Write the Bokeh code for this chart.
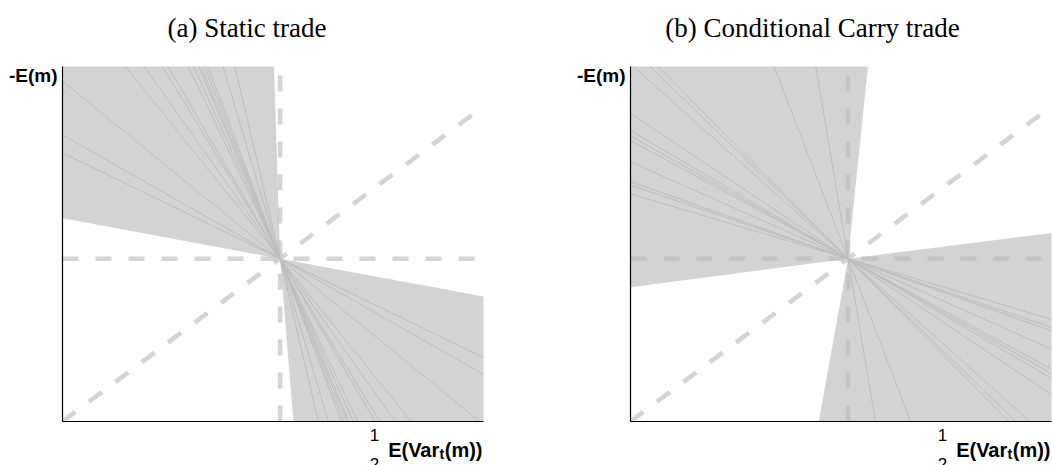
import math
from bokeh.plotting import figure
from bokeh.models import Range1d, Label, FixedTicker, LinearAxis
from bokeh.layouts import row
from bokeh.embed import file_html
from bokeh.resources import INLINE

# ---------------- data ----------------
X_MAX = 1.935          # x-axis extent (1/2 E(Var_t(m)))
Y_MAX = 2.18           # y-axis extent (-E(m))
CENTER = (1.0, 1.0)    # common point of all lines

titles = ["(a) Static trade", "(b) Conditional Carry trade"]
y_label = "-E(m)"
x_label_main = "E(Var"
x_label_sub = "t"
x_label_tail = "(m))"
x_label_num = "1"
x_label_den = "2"

# slopes of the individual lines through the centre
static_slopes = [-0.65, -0.76, -1.09, -1.66, -1.89, -2.18, -2.29, -2.80,
                 -2.97, -3.16, -3.26, -3.41, -3.55, -4.50, -5.68]
carry_slopes = [-0.398, -0.451, -0.473, -0.594, -0.726, -0.754, -0.787,
                -0.893, -1.196, -1.297, -1.351, -3.475, -7.96]

# shaded region edges: (steep edge slope, shallow edge slope)
static_upper_edges = (-42.6, -0.248)
static_lower_edges = (-16.3, -0.248)
carry_upper_edges = (12.9, 0.176)
carry_lower_edges = (7.43, 0.168)

# ---------------- layout constants ----------------
CANVAS_H = 465
BW, BH = 421, 355          # plotting box in pixels
BOX_TOP = 66
BOX_BOTTOM = BOX_TOP + BH  # 421
PX_X = BW / X_MAX
PX_Y = BH / Y_MAX

FILL = "#d3d3d3"
LINE = "#bdbdbd"
DASH = "#bbbbbb"


def hit(cx, cy, dx, dy):
    ts = []
    if dx > 0:
        ts.append((X_MAX - cx) / dx)
    elif dx < 0:
        ts.append(-cx / dx)
    if dy > 0:
        ts.append((Y_MAX - cy) / dy)
    elif dy < 0:
        ts.append(-cy / dy)
    t = min(ts)
    return cx + t * dx, cy + t * dy


def wedge(d1, d2):
    cx, cy = CENTER
    a1 = math.atan2(d1[1], d1[0])
    span = (math.atan2(d2[1], d2[0]) - a1) % (2 * math.pi)
    pts = [hit(cx, cy, *d1)]
    corners = [(0, 0), (X_MAX, 0), (X_MAX, Y_MAX), (0, Y_MAX)]
    inside = []
    for (x, y) in corners:
        rel = (math.atan2(y - cy, x - cx) - a1) % (2 * math.pi)
        if rel < span:
            inside.append((rel, (x, y)))
    inside.sort()
    pts += [c for _, c in inside]
    pts.append(hit(cx, cy, *d2))
    xs = [cx] + [q[0] for q in pts]
    ys = [cy] + [q[1] for q in pts]
    return xs, ys


def make_panel(title, slopes, upper, lower, fig_left_px, fig_width, box_left_px, title_center_px):
    left_off = box_left_px - fig_left_px
    x_rng = Range1d(-left_off / PX_X, (fig_width - left_off) / PX_X)
    y_rng = Range1d(-(CANVAS_H - BOX_BOTTOM) / PX_Y, BOX_BOTTOM / PX_Y)
    p = figure(x_range=x_rng, y_range=y_rng,
               frame_width=fig_width, frame_height=CANVAS_H,
               min_border=0, x_axis_type=None, y_axis_type=None,
               output_backend="svg", toolbar_location=None,
               background_fill_color="white", border_fill_color="white")
    p.outline_line_color = None
    p.xgrid.visible = False
    p.ygrid.visible = False

    xa = LinearAxis(fixed_location=0, bounds=(0, X_MAX))
    ya = LinearAxis(fixed_location=0, bounds=(0, Y_MAX))
    for ax in (xa, ya):
        ax.ticker = FixedTicker(ticks=[])
        ax.axis_line_color = "black"
        ax.axis_line_width = 1.2
        ax.major_tick_line_color = None
        ax.minor_tick_line_color = None
        ax.major_label_text_font_size = "0px"

    cx, cy = CENTER
    # shaded regions
    s_up, s_left = upper
    xs, ys = wedge((1.0 / s_up, 1.0), (-1.0, -s_left))
    p.patch(xs, ys, fill_color=FILL, line_color=None)
    s_down, s_right = lower
    xs, ys = wedge((-1.0 / s_down, -1.0), (1.0, s_right))
    p.patch(xs, ys, fill_color=FILL, line_color=None)

    # individual lines
    x0s, y0s, x1s, y1s = [], [], [], []
    for s in slopes:
        a = hit(cx, cy, -1.0, -s)
        b = hit(cx, cy, 1.0, s)
        x0s.append(a[0]); y0s.append(a[1]); x1s.append(b[0]); y1s.append(b[1])
    p.segment(x0s, y0s, x1s, y1s, line_color=LINE, line_width=1)

    # dashed reference lines
    kw = dict(line_color=DASH, line_alpha=0.64, line_width=4.5, line_dash="16 17", line_cap="butt")
    p.line([0, X_MAX], [cy, cy], **kw)
    p.line([cx, cx], [0, Y_MAX], **kw)
    p.line([0, X_MAX], [0, X_MAX], **kw)

    p.add_layout(xa, "below")
    p.add_layout(ya, "left")

    def dx(px):
        return (px - box_left_px) / PX_X

    def dy(py):
        return (BOX_BOTTOM - py) / PX_Y

    # title
    p.add_layout(Label(x=dx(title_center_px), y=dy(27), text=title,
                       text_font="Liberation Serif", text_font_size="27px",
                       text_align="center", text_baseline="alphabetic", text_color="black"))
    # y label
    p.add_layout(Label(x=dx(box_left_px - 5), y=dy(75), text=y_label,
                       text_font="Liberation Sans", text_font_size="19px", text_font_style="bold",
                       text_align="right", text_baseline="alphabetic", text_color="black"))
    # x label pieces
    right = box_left_px + BW - 1
    base = 449
    fs = 20
    w_tail = 1.888 * fs
    w_sub = 0.333 * 14
    w_main = 2.612 * fs
    p.add_layout(Label(x=dx(right), y=dy(base), text=x_label_tail,
                       text_font="Liberation Sans", text_font_size=f"{fs}px", text_font_style="bold",
                       text_align="right", text_baseline="alphabetic", text_color="black"))
    sub_r = right - w_tail - 0.5
    p.add_layout(Label(x=dx(sub_r), y=dy(base + 4), text=x_label_sub,
                       text_font="Liberation Sans", text_font_size="14px", text_font_style="bold",
                       text_align="right", text_baseline="alphabetic", text_color="black"))
    main_r = sub_r - w_sub - 0.3
    p.add_layout(Label(x=dx(main_r), y=dy(base), text=x_label_main,
                       text_font="Liberation Sans", text_font_size=f"{fs}px", text_font_style="bold",
                       text_align="right", text_baseline="alphabetic", text_color="black"))
    frac_c = main_r - w_main - 12.5
    p.add_layout(Label(x=dx(frac_c), y=dy(434), text=x_label_num,
                       text_font="Liberation Sans", text_font_size="17px",
                       text_align="center", text_baseline="alphabetic", text_color="black"))
    p.add_layout(Label(x=dx(frac_c), y=dy(463), text=x_label_den,
                       text_font="Liberation Sans", text_font_size="17px",
                       text_align="center", text_baseline="alphabetic", text_color="black"))
    return p


pa = make_panel(titles[0], static_slopes, static_upper_edges, static_lower_edges,
                0, 560, 62, 246.5)
pb = make_panel(titles[1], carry_slopes, carry_upper_edges, carry_lower_edges,
                560, 492, 630, 812)

layout = row(pa, pb)
open("out.html", "w").write(file_html(layout, INLINE))
